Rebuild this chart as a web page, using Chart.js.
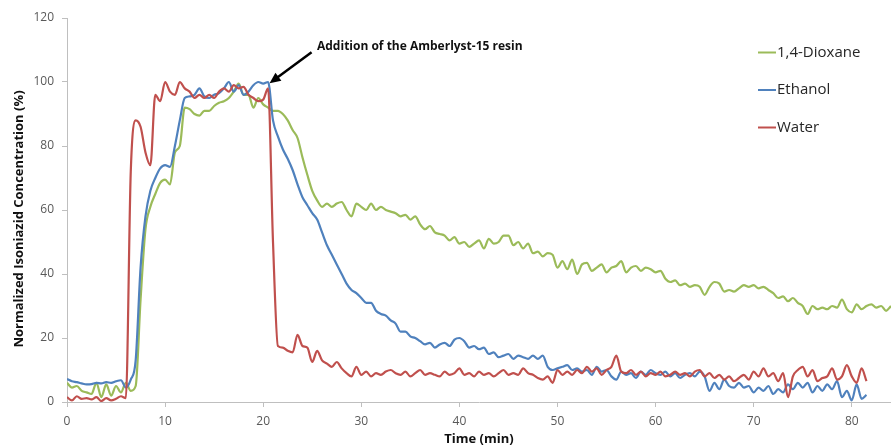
<!DOCTYPE html>
<html>
<head>
<meta charset="utf-8">
<script src="https://cdn.jsdelivr.net/npm/chart.js@4.4.0/dist/chart.umd.min.js"></script>
<style>
  html, body { margin: 0; padding: 0; background: #fff; }
  #wrap { width: 891px; height: 447px; }
</style>
</head>
<body>
<div id="wrap"><canvas id="concChart" width="891" height="447"></canvas></div>
<script>
// time in minutes, sampled every 0.5 min
const time = [
  0,0.5,1,1.5,2,2.5,3,3.5,4,4.5,
  5,5.5,6,6.5,7,7.5,8,8.5,9,9.5,
  10,10.5,11,11.5,12,12.5,13,13.5,14,14.5,
  15,15.5,16,16.5,17,17.5,18,18.5,19,19.5,
  20,20.5,21,21.5,22,22.5,23,23.5,24,24.5,
  25,25.5,26,26.5,27,27.5,28,28.5,29,29.5,
  30,30.5,31,31.5,32,32.5,33,33.5,34,34.5,
  35,35.5,36,36.5,37,37.5,38,38.5,39,39.5,
  40,40.5,41,41.5,42,42.5,43,43.5,44,44.5,
  45,45.5,46,46.5,47,47.5,48,48.5,49,49.5,
  50,50.5,51,51.5,52,52.5,53,53.5,54,54.5,
  55,55.5,56,56.5,57,57.5,58,58.5,59,59.5,
  60,60.5,61,61.5,62,62.5,63,63.5,64,64.5,
  65,65.5,66,66.5,67,67.5,68,68.5,69,69.5,
  70,70.5,71,71.5,72,72.5,73,73.5,74,74.5,
  75,75.5,76,76.5,77,77.5,78,78.5,79,79.5,
  80,80.5,81,81.5,82,82.5,83,83.5,84
];

const water = [
  1.5,0.5,1.8,1.0,1.2,0.8,1.5,0.3,1.2,0.5,
  1.0,1.8,1.2,72,88,86,78,74,96,94,
  100,97,96,100,98,97,95,96,95,96,
  95,97,98,97,99,98,98.5,96,95,94,
  94.5,98,50,17.5,17,16,15.5,21,17.5,17,
  12.5,16,13,12,11,12.5,10.5,9,8,11,
  8.5,9.5,8,9,8.5,9.5,10,9,8.5,9.5,
  8,9,10,8.5,9,8.5,8,9.5,8.5,9,
  10.5,8.5,9,8,9.5,8.5,9,8,9,10,
  8.5,9,8.5,10.5,9,8.5,7.5,7,8,6,
  10,8.5,9.5,8.5,10,9,11,9.5,10.5,8.5,
  10,11,14.5,9.5,9,10,8.5,9.5,8,9,
  8.5,9.5,8,8.5,9.5,8.5,9,8,9.5,10,
  8,9,7.5,8.5,7,8,6.5,7.5,8.5,7,
  9.5,8,10.5,8,9,6.5,9,1.5,8,10,
  11,8,10,6.5,7.5,8,10.5,7,8,11.5,
  8,6,10.5,6.5
];

const ethanol = [
  7.2,6.5,6.2,5.8,5.5,5.6,6,5.8,6.2,6,
  6.5,6.8,4.5,7,13,42,58,66,70,73,
  74,73.5,80,88,95,95.5,96,98,95.5,95,
  96,96.5,98,100,97,99,96,97,99,100,
  99.5,100,88,83,79,76,72.5,68,64,61.5,
  59,57,53,49,46,43,40,37,35,34,
  32.5,31,31,28.5,27.5,27,25.5,24.5,22,22,
  20.5,20,19,18,18.5,17,18,18.5,17.5,19.5,
  20,19,17,17.5,16.5,17,15,15.5,14,14.5,
  15,13.5,14.5,14,13.5,14.5,13.5,14.5,11,10,
  10.5,11,11.5,10,10.5,9.5,10,8.5,11,9.5,
  10,8,7,9.5,8.5,9,7.5,9.5,8.5,10,
  9,8.5,9.5,8,9,7.5,8.5,9,8,9.5,
  8,3.5,6,4,7,5,4.5,6,4.5,5,
  3,4.5,3.5,5,2.5,4,3,5.5,4,6,
  4.5,6,3,5,3.5,5.5,4,6.5,1.5,3.5,
  0.5,5.5,1,2.2
];

const dioxane = [
  6,4.5,5,3.5,3,2.5,6,1.5,5.5,2,
  5,3,6,3.5,5,32,54,61,65,68.5,
  69.5,68,78,80,92,91.5,90,89.5,91,91,
  92.5,93.5,94,95,97,99.5,96,96,92,95,
  93,92,91,91,90,88,85,82.5,76.5,71,
  66,63,61,62,61,62,62.5,60,58,62,
  61,60,62,60,61,60,59.5,59,58,58.5,
  57,58,55.5,54,55,53,52.5,52,50.5,51.5,
  49.5,50,48.5,49.5,50.5,48,51,49.5,50,52,
  52,49,50,48,49.5,46.5,47,45.5,46.5,46,
  42,44,41.5,44.5,40,43,43.5,41,42,43,
  40.5,42,42.5,44,40.5,42,42.5,41,42,41.5,
  40.5,41,38.5,37.5,38,36.5,37,36,36.5,36,
  33.5,36,37.5,37,34.5,35,34.5,35.5,36.5,36,
  36.5,35.5,36,35,34,32.5,33,31.5,32.5,31,
  30,27.5,30,29,29.5,29,30,29.5,32,29,
  28,30.5,29,30,30.5,29.5,30,28.5,30
];

const xTicks = [0, 10, 20, 30, 40, 50, 60, 70, 80];
const yTicks = [0, 20, 40, 60, 80, 100, 120];

const seriesNames = ['1,4-Dioxane', 'Ethanol', 'Water'];
const seriesColors = ['#9bbb59', '#4f81bd', '#c0504d'];

const yTitle = 'Normalized Isoniazid Concentration (%)';
const xTitle = 'Time (min)';
const note = 'Addition of the Amberlyst-15 resin';

// axis titles, arrow note and legend drawn on top of the chart
const overlay = {
  id: 'overlay',
  afterDraw(chart) {
    const ctx = chart.ctx;
    const area = chart.chartArea;
    const sx = chart.scales.x, sy = chart.scales.y;
    ctx.save();
    ctx.fillStyle = '#111';
    ctx.textAlign = 'center';
    ctx.textBaseline = 'middle';

    ctx.font = 'bold 13px "Open Sans"';
    ctx.save();
    ctx.translate(19, 219);
    ctx.rotate(-Math.PI / 2);
    ctx.fillText(yTitle, 0, 0);
    ctx.restore();

    ctx.font = 'bold 13px "Open Sans"';
    ctx.fillText(xTitle, (area.left + area.right) / 2, 439);

    // arrow
    const tipX = sx.getPixelForValue(20.65), tipY = sy.getPixelForValue(99.6);
    const tailX = tipX + 42, tailY = tipY - 31;
    const ang = Math.atan2(tipY - tailY, tipX - tailX);
    ctx.strokeStyle = '#000';
    ctx.lineWidth = 2.5;
    ctx.beginPath();
    ctx.moveTo(tailX, tailY);
    ctx.lineTo(tipX - 8 * Math.cos(ang), tipY - 8 * Math.sin(ang));
    ctx.stroke();
    ctx.fillStyle = '#000';
    ctx.beginPath();
    ctx.moveTo(tipX, tipY);
    ctx.lineTo(tipX - 11 * Math.cos(ang) + 5 * Math.sin(ang), tipY - 11 * Math.sin(ang) - 5 * Math.cos(ang));
    ctx.lineTo(tipX - 11 * Math.cos(ang) - 5 * Math.sin(ang), tipY - 11 * Math.sin(ang) + 5 * Math.cos(ang));
    ctx.closePath();
    ctx.fill();

    ctx.fillStyle = '#111';
    ctx.textAlign = 'left';
    ctx.font = 'bold 12px "Open Sans"';
    ctx.fillText(note, 317, 47);

    // legend
    ctx.font = '15px "Open Sans"';
    ctx.fillStyle = '#262626';
    const legY = [52.5, 90, 127.5];
    seriesNames.forEach((name, i) => {
      ctx.strokeStyle = seriesColors[i];
      ctx.lineWidth = 2;
      ctx.beginPath();
      ctx.moveTo(758, legY[i]);
      ctx.lineTo(776, legY[i]);
      ctx.stroke();
      ctx.fillText(name, 777, legY[i]);
    });
    ctx.restore();
  }
};

const axisColor = '#bfbfbf';
const tickFont = { family: 'Open Sans', size: 12 };

new Chart(document.getElementById('concChart').getContext('2d'), {
  type: 'line',
  data: {
    labels: time,
    datasets: [
      { label: seriesNames[2], data: water, borderColor: seriesColors[2] },
      { label: seriesNames[1], data: ethanol, borderColor: seriesColors[1] },
      { label: seriesNames[0], data: dioxane, borderColor: seriesColors[0] }
    ]
  },
  options: {
    responsive: false,
    animation: false,
    devicePixelRatio: 1,
    layout: { padding: { top: 18, right: 0, bottom: 0, left: 0 } },
    elements: {
      line: { borderWidth: 2.2, cubicInterpolationMode: 'monotone', fill: false },
      point: { radius: 0, hoverRadius: 0 }
    },
    plugins: { legend: { display: false }, tooltip: { enabled: false } },
    scales: {
      x: {
        type: 'linear',
        min: 0,
        max: 84,
        afterBuildTicks: s => { s.ticks = xTicks.map(v => ({ value: v })); },
        afterFit: s => { s.height = 45; },
        grid: { display: true, drawOnChartArea: false, tickLength: 5, color: axisColor },
        border: { color: axisColor, width: 1 },
        ticks: { font: tickFont, color: '#595959', padding: 7, maxRotation: 0, autoSkip: false }
      },
      y: {
        min: 0,
        max: 120,
        afterBuildTicks: s => { s.ticks = yTicks.map(v => ({ value: v })); },
        afterFit: s => { s.width = 67; },
        grid: { display: true, drawOnChartArea: false, tickLength: 5, color: axisColor },
        border: { color: axisColor, width: 1 },
        ticks: { font: tickFont, color: '#595959', padding: 8 }
      }
    }
  },
  plugins: [overlay]
});
</script>
</body>
</html>
